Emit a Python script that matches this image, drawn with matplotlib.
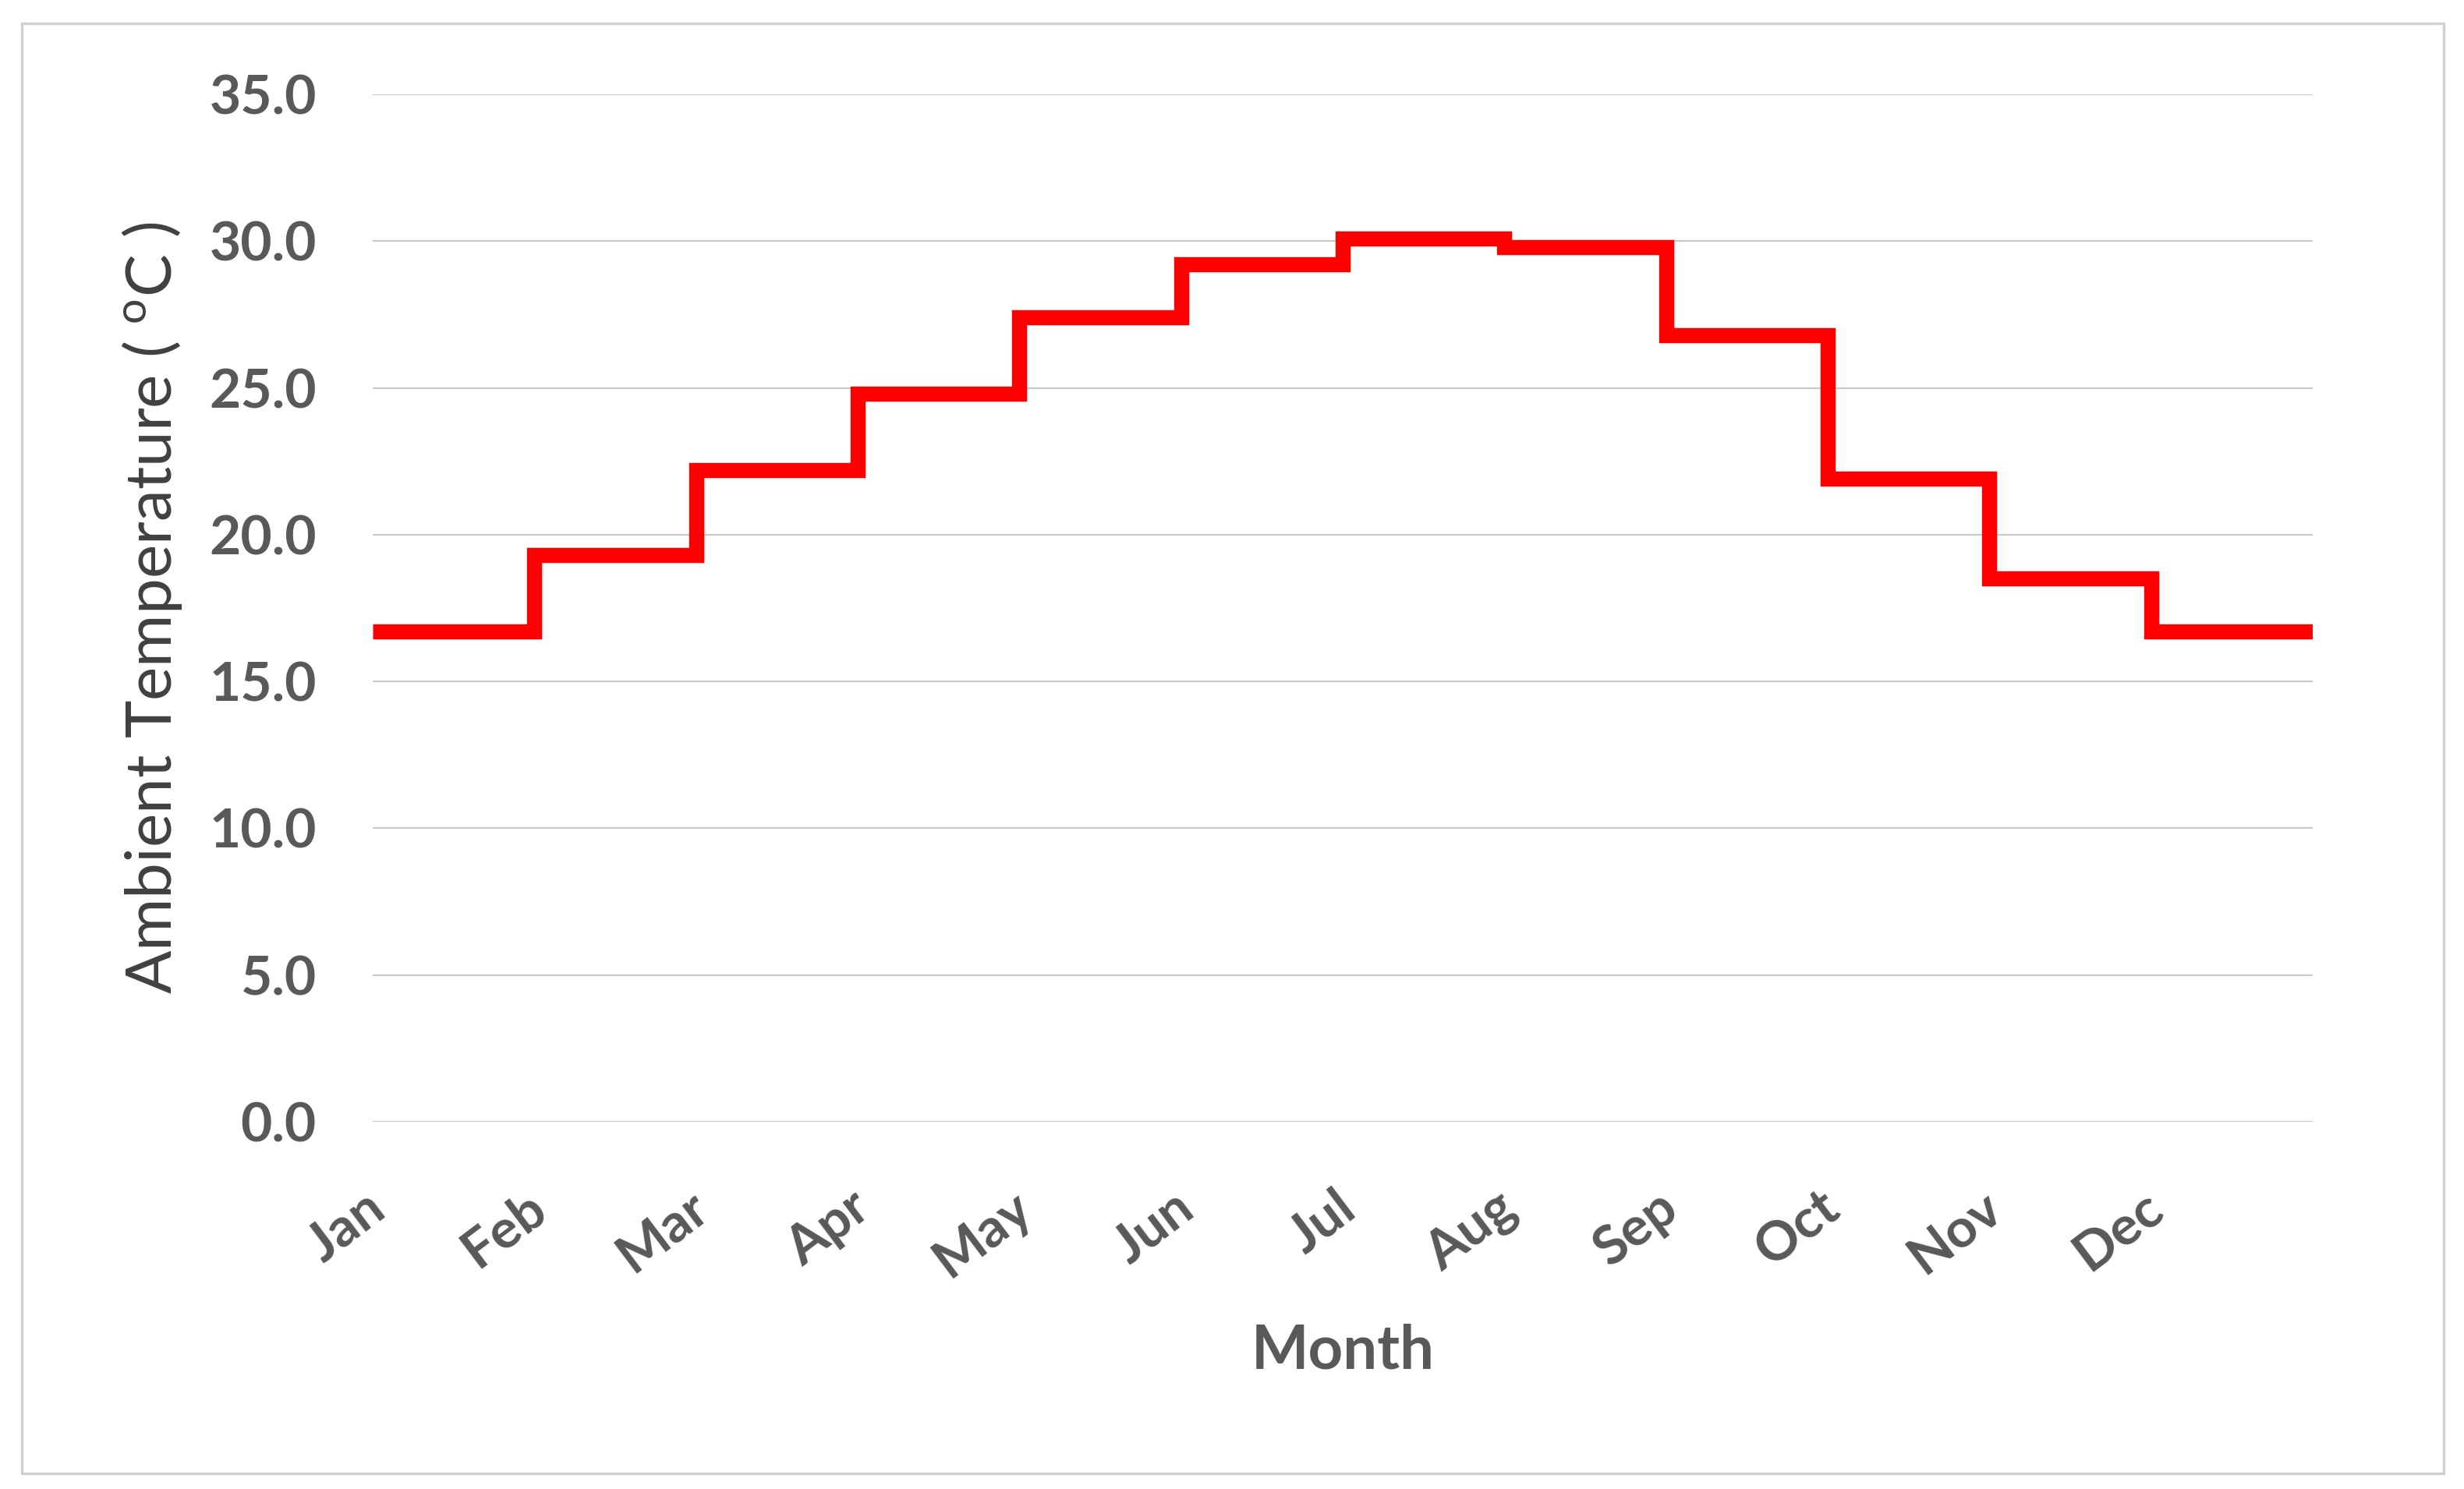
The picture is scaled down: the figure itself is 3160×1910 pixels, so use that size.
import numpy as np
import matplotlib
matplotlib.use("Agg")
import matplotlib.pyplot as plt
import matplotlib.transforms as mtransforms
from matplotlib.patches import Rectangle

# monthly mean ambient temperature
months = ['Jan', 'Feb', 'Mar', 'Apr', 'May', 'Jun',
          'Jul', 'Aug', 'Sep', 'Oct', 'Nov', 'Dec']
temps = [16.7, 19.3, 22.2, 24.8, 27.4, 29.2,
         30.1, 29.8, 26.8, 21.9, 18.5, 16.7]
yticks = [0, 5, 10, 15, 20, 25, 30, 35]

plt.rcParams['font.family'] = ['Lato', 'DejaVu Sans']

W, H, DPI = 3160, 1910, 200
fig = plt.figure(figsize=(W / DPI, H / DPI), dpi=DPI)
ax = fig.add_axes([478 / W, 1 - 1439 / H, (2966 - 478) / W, (1439 - 121) / H])

# step line: each month held flat until the next one starts
x = np.arange(len(months) + 1)
y = temps + [temps[-1]]
ax.step(x, y, where='post', color='#ff0000', lw=7,
        solid_joinstyle='miter', solid_capstyle='butt', zorder=3)

ax.set_xlim(0, len(months))
ax.set_ylim(0, 35)
ax.set_yticks(yticks)
ax.set_yticklabels([f'{v:.1f}' for v in yticks])
ax.set_xticks(np.arange(len(months)))
ax.set_xticklabels(months, rotation=37, ha='right', va='top', rotation_mode='anchor')

ax.grid(axis='y', color='#c8c8c8', lw=0.75)
ax.set_axisbelow(True)
for s in ax.spines.values():
    s.set_visible(False)
ax.tick_params(axis='both', length=0, colors='#595959', labelsize=25)
ax.tick_params(axis='y', pad=26)
ax.tick_params(axis='x', pad=28)
# nudge month labels a little to the left
shift = mtransforms.ScaledTranslation(-4 / 72, 0, fig.dpi_scale_trans)
for lab in ax.get_xticklabels():
    lab.set_fontweight('bold')
    lab.set_transform(lab.get_transform() + shift)
for lab in ax.get_yticklabels():
    lab.set_fontweight('bold')

ax.set_ylabel('Ambient Temperature ( $^{\\mathregular{o}}$C )', fontsize=29.5,
              color='#404040', va='center')
ax.yaxis.set_label_coords((195 - 478) / (2966 - 478), 0.5)
ax.set_xlabel('Month', fontsize=28, fontweight='bold', color='#595959')
ax.xaxis.set_label_coords(0.5, -(1733 - 1439) / (1439 - 121))
ax.xaxis.label.set_va('center')

# light frame around the whole chart
fig.patches.append(Rectangle((28 / W, 1 - 1890 / H), (3134 - 28) / W, (1890 - 30) / H,
                             transform=fig.transFigure, fill=False,
                             edgecolor='#d0d0d0', lw=1.2))

fig.savefig('out.png', dpi=DPI, facecolor='white')
